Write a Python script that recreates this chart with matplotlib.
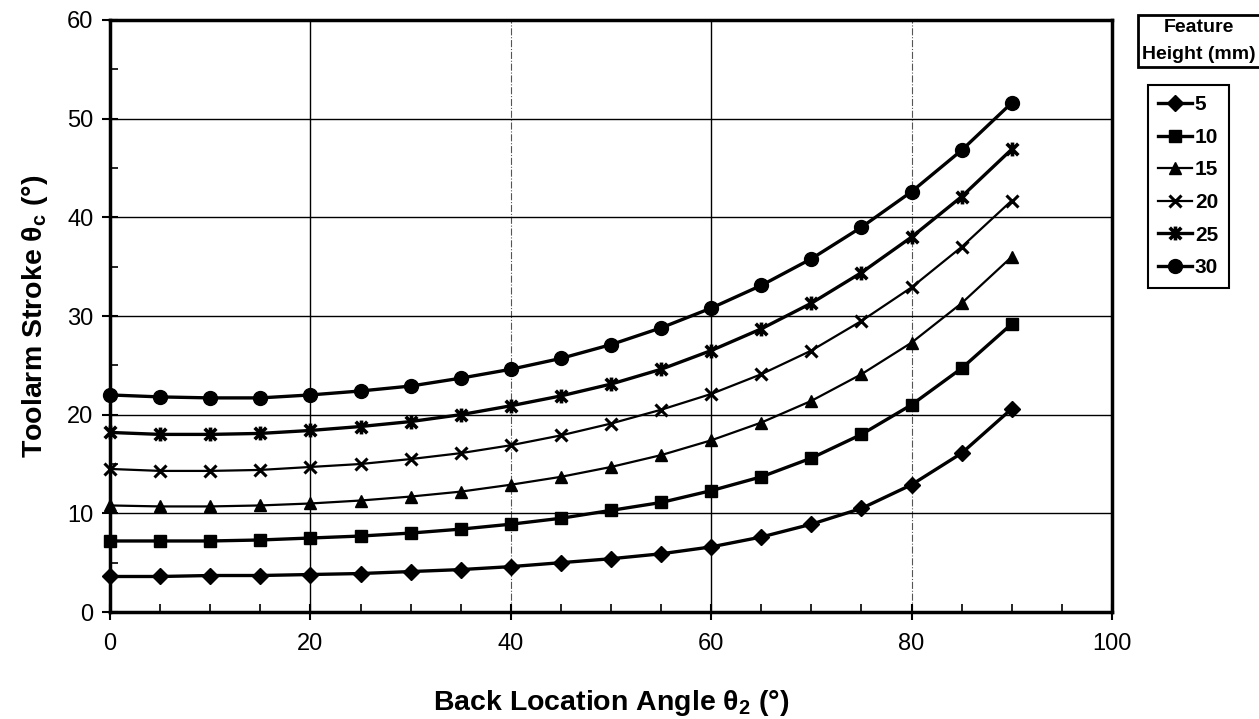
import matplotlib
matplotlib.use('Agg')
import matplotlib.pyplot as plt
from matplotlib.path import Path

plt.rcParams['font.family'] = ['Liberation Sans', 'DejaVu Sans']
plt.rcParams['mathtext.fontset'] = 'custom'
plt.rcParams['mathtext.rm'] = 'Liberation Sans'
plt.rcParams['mathtext.bf'] = 'Liberation Sans:bold'

angle = [0, 5, 10, 15, 20, 25, 30, 35, 40, 45, 50, 55, 60, 65, 70, 75, 80, 85, 90]
heights = ['5', '10', '15', '20', '25', '30']

h5 = [3.6, 3.6, 3.7, 3.7, 3.8, 3.9, 4.1, 4.3, 4.6, 5.0, 5.4, 5.9, 6.6, 7.6, 8.9, 10.5, 12.9, 16.1, 20.6]
h10 = [7.2, 7.2, 7.2, 7.3, 7.5, 7.7, 8.0, 8.4, 8.9, 9.5, 10.3, 11.1, 12.3, 13.7, 15.6, 18.0, 21.0, 24.7, 29.2]
h15 = [10.8, 10.7, 10.7, 10.8, 11.0, 11.3, 11.7, 12.2, 12.9, 13.7, 14.7, 15.9, 17.4, 19.2, 21.4, 24.1, 27.3, 31.3, 36.0]
h20 = [14.5, 14.3, 14.3, 14.4, 14.7, 15.0, 15.5, 16.1, 16.9, 17.9, 19.1, 20.5, 22.1, 24.1, 26.5, 29.5, 32.9, 37.0, 41.7]
h25 = [18.2, 18.0, 18.0, 18.1, 18.4, 18.8, 19.3, 20.0, 20.9, 21.9, 23.1, 24.6, 26.5, 28.7, 31.3, 34.4, 38.0, 42.1, 46.9]
h30 = [22.0, 21.8, 21.7, 21.7, 22.0, 22.4, 22.9, 23.7, 24.6, 25.7, 27.1, 28.8, 30.8, 33.1, 35.8, 39.0, 42.6, 46.8, 51.6]

# excel style star: an x with a vertical bar through it
star = Path([(-1, -1), (1, 1), (-1, 1), (1, -1), (0, -1.2), (0, 1.2)],
            [Path.MOVETO, Path.LINETO, Path.MOVETO, Path.LINETO, Path.MOVETO, Path.LINETO])

styles = [
    (h5, 'D', 8, 2.4, 1),
    (h10, 's', 9, 2.4, 1),
    (h15, '^', 8, 1.6, 1),
    (h20, 'x', 9, 1.6, 2.2),
    (h25, star, 10, 2.4, 2.6),
    (h30, 'o', 10, 2.4, 1),
]

fig = plt.figure(figsize=(12.59, 7.19), dpi=100)
ax = fig.add_axes([0.0874, 0.1488, 0.7958, 0.8234])

for label, (vals, mk, ms, lw, mew) in zip(heights, styles):
    ax.plot(angle, vals, color='black', lw=lw, marker=mk, markersize=ms,
            markeredgewidth=mew, markerfacecolor='black', markeredgecolor='black',
            label=label, clip_on=False, zorder=3)

ax.set_xlim(0, 100)
ax.set_ylim(0, 60)
ax.set_xticks(range(0, 101, 20))
ax.set_yticks(range(0, 61, 10))
ax.set_xticks(range(0, 101, 5), minor=True)
ax.set_yticks(range(0, 61, 5), minor=True)
ax.tick_params(which='major', direction='inout', length=12, width=1.5, labelsize=17, pad=6)
ax.tick_params(which='minor', direction='in', length=6, width=1.2)
ax.tick_params(axis='x', which='major', pad=9)

ax.yaxis.grid(True, color='black', lw=1)
for xv, ls in [(20, '-'), (40, '-.'), (60, '-'), (80, '-.')]:
    ax.axvline(xv, color='black' if ls == '-' else '#555555', lw=1 if ls == '-' else 0.8,
               ls=ls, zorder=1)
for s in ax.spines.values():
    s.set_linewidth(2.5)

ax.set_xlabel('Back Location Angle θ$_{\\mathbf{2}}$ (°)', fontsize=20.5, fontweight='bold', labelpad=24)
ax.set_ylabel('Toolarm Stroke θ$_{\\mathbf{c}}$ (°)', fontsize=20.5, fontweight='bold', labelpad=12)

fig.text(0.9525, 0.943, 'Feature\nHeight (mm)', ha='center', va='center', fontsize=14,
         fontweight='bold', linespacing=1.75,
         bbox=dict(boxstyle='square,pad=0.22', fc='white', ec='black', lw=2))

leg = fig.legend(loc='upper left', bbox_to_anchor=(0.9118, 0.8818), borderaxespad=0,
                 fancybox=False, edgecolor='black', handlelength=1.6, handletextpad=0.15,
                 labelspacing=0.65, borderpad=0.5, framealpha=1,
                 prop={'weight': 'bold', 'size': 15})
leg.get_frame().set_linewidth(1.5)

fig.savefig('out.png', dpi=100)
